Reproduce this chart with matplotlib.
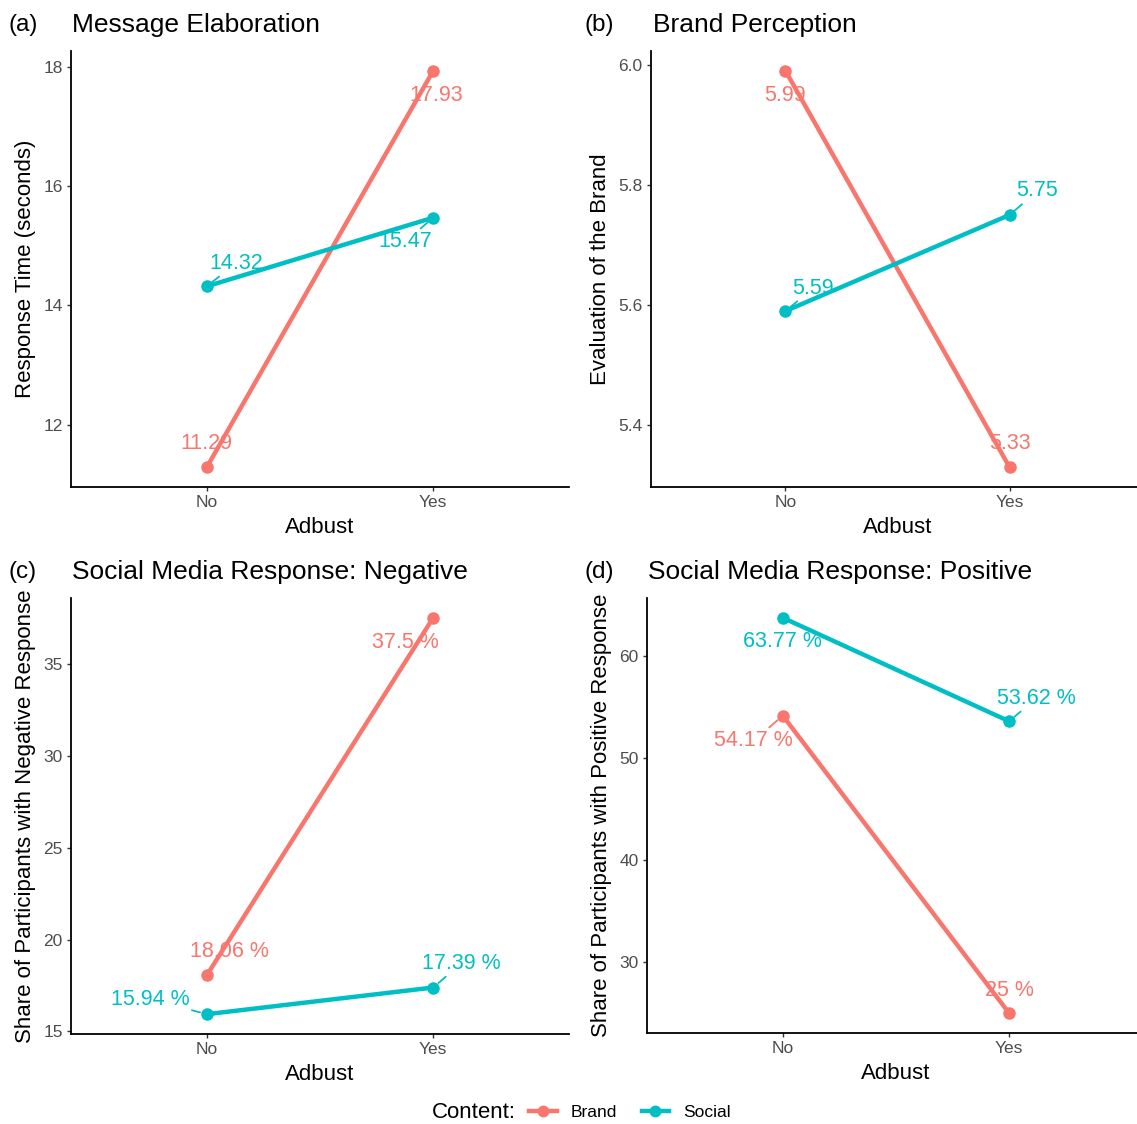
import matplotlib
matplotlib.use('Agg')
import matplotlib.pyplot as plt
from matplotlib.lines import Line2D

plt.rcParams['font.family'] = ['Liberation Sans', 'DejaVu Sans']

# Datos
adbust = ['No', 'Yes']
elab_brand = [11.29, 17.93]
elab_social = [14.32, 15.47]
perc_brand = [5.99, 5.33]
perc_social = [5.59, 5.75]
neg_brand = [18.06, 37.5]
neg_social = [15.94, 17.39]
pos_brand = [54.17, 25]
pos_social = [63.77, 53.62]

red = '#F8766D'
teal = '#00BFC4'
W, H = 1137, 1124

fig = plt.figure(figsize=(W / 100, H / 100), dpi=100)


def px_axes(left, right, top, bottom):
    return fig.add_axes([left / W, 1 - bottom / H, (right - left) / W, (bottom - top) / H])


def panel(ax, brand, social, yticks, yfmt, pct, offs, segs, ylabel, tag, title, tag_x, title_x, y_txt):
    x = [1, 2]
    ax.plot(x, brand, color=red, lw=3.2, marker='o', ms=8, solid_capstyle='butt')
    ax.plot(x, social, color=teal, lw=3.2, marker='o', ms=8, solid_capstyle='butt')
    lo = min(brand + social)
    hi = max(brand + social)
    pad = (hi - lo) * 0.05
    ax.set_ylim(lo - pad, hi + pad)
    ax.set_xlim(0.4, 2.6)
    ax.set_xticks(x)
    ax.set_xticklabels(adbust)
    ax.set_yticks(yticks)
    ax.set_yticklabels([yfmt.format(t) for t in yticks])
    # etiquetas de valores
    for vals, col, key in [(brand, red, 'b'), (social, teal, 's')]:
        for i, v in enumerate(vals):
            txt = f'{v:g} %' if pct else f'{v:g}'
            dx, dy = offs[key][i]
            arrow = None
            if segs[key][i]:
                arrow = dict(arrowstyle='-', color=col, lw=1.3, shrinkA=0, shrinkB=5)
            ax.annotate(txt, (x[i], v), xytext=(dx, dy), textcoords='offset pixels',
                        ha='center', va='center', color=col, fontsize=15.5,
                        arrowprops=arrow)
    for s in ['top', 'right']:
        ax.spines[s].set_visible(False)
    for s in ['left', 'bottom']:
        ax.spines[s].set_linewidth(1.3)
    ax.tick_params(length=3, width=1, color='#333333', labelcolor='#4D4D4D',
                   labelsize=12.5, pad=3)
    ax.set_xlabel('Adbust', fontsize=16, labelpad=5)
    ax.set_ylabel(ylabel, fontsize=16, labelpad=5)
    fig.text(tag_x / W, 1 - y_txt / H, tag, fontsize=17.5, ha='left', va='center')
    fig.text(title_x / W, 1 - y_txt / H, title, fontsize=19, ha='left', va='center')


ax1 = px_axes(71, 569, 51, 487)
panel(ax1, elab_brand, elab_social, [12, 14, 16, 18], '{:g}', False,
      {'b': [(0, 24), (3, -25)], 's': [(29, 23), (-28, -24)]},
      {'b': [False, False], 's': [True, True]},
      'Response Time (seconds)', '(a)', 'Message Elaboration', 9, 72, 25)

ax2 = px_axes(651, 1144, 51, 487)
panel(ax2, perc_brand, perc_social, [5.4, 5.6, 5.8, 6.0], '{:.1f}', False,
      {'b': [(0, -25), (0, 24)], 's': [(28, 23), (28, 24)]},
      {'b': [False, False], 's': [True, True]},
      'Evaluation of the Brand', '(b)', 'Brand Perception', 584, 653, 25)

ax3 = px_axes(71, 569, 598, 1034)
panel(ax3, neg_brand, neg_social, [15, 20, 25, 30, 35], '{:g}', True,
      {'b': [(23, 24), (-28, -25)], 's': [(-57, 15), (28, 24)]},
      {'b': [False, False], 's': [True, True]},
      'Share of Participants with Negative Response', '(c)',
      'Social Media Response: Negative', 9, 72, 572)

ax4 = px_axes(647, 1145, 598, 1033)
panel(ax4, pos_brand, pos_social, [30, 40, 50, 60], '{:g}', True,
      {'b': [(-29, -25), (0, 23)], 's': [(0, -24), (27, 23)]},
      {'b': [True, False], 's': [False, True]},
      'Share of Participants with Positive Response', '(d)',
      'Social Media Response: Positive', 584, 648, 572)

# Leyenda
handles = [Line2D([], [], color=red, lw=3.2, marker='o', ms=7.5),
           Line2D([], [], color=teal, lw=3.2, marker='o', ms=7.5)]
fig.text(432 / W, 1 - 1112 / H, 'Content:', fontsize=16, ha='left', va='center')
fig.legend(handles, ['Brand', 'Social'], ncol=2, loc='center',
           bbox_to_anchor=(630 / W, 1 - 1112 / H), frameon=False, fontsize=12.5,
           handlelength=1.6, handletextpad=0.8, columnspacing=1.4)

plt.savefig('out.png', dpi=100)
